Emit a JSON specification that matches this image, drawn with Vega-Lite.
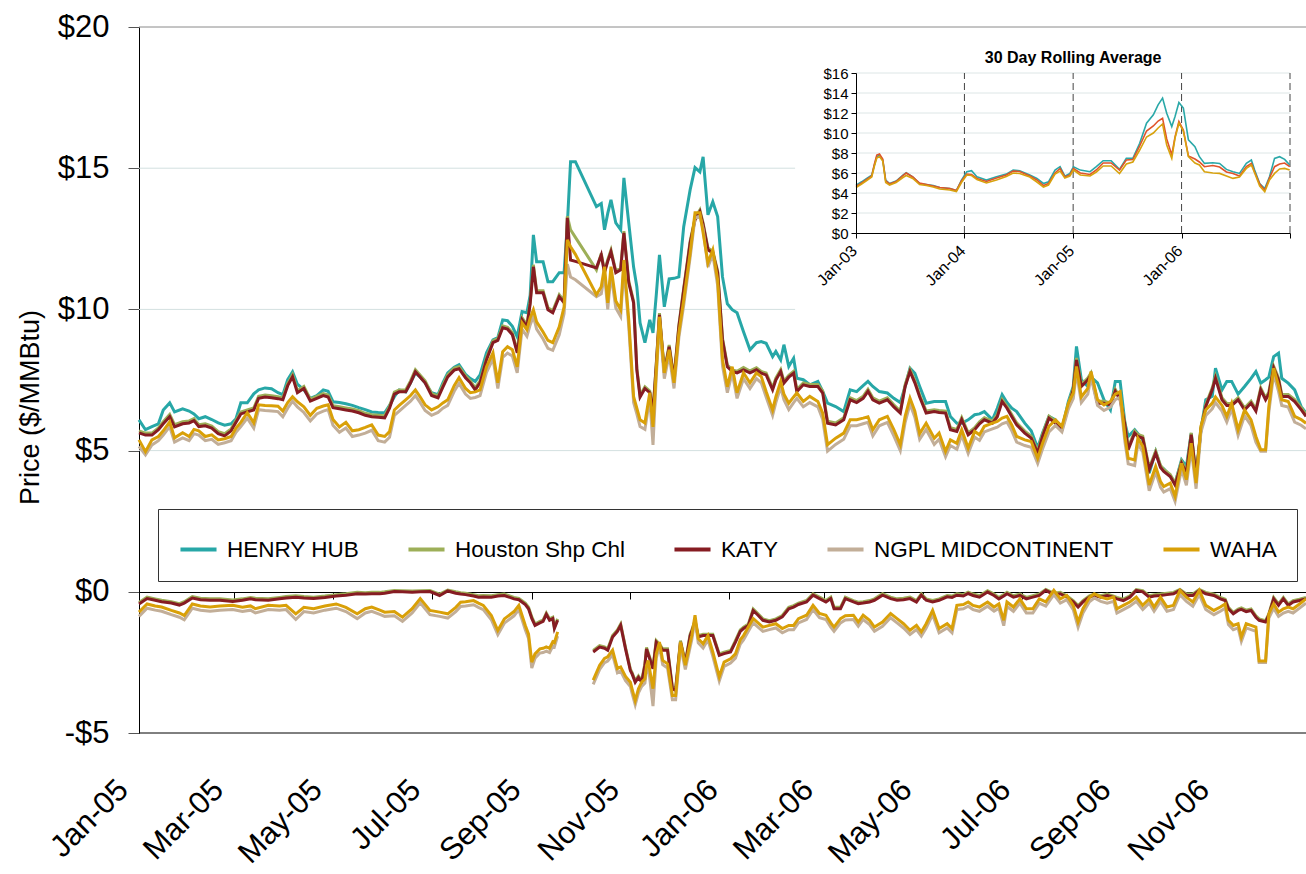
{
"$schema":"https://vega.github.io/schema/vega-lite/v6.json",
"width":1167,"height":706,
"autosize":{"type":"none"},
"padding":{"left":139,"top":27,"right":0,"bottom":141},
"background":"white",
"config":{"view":{"stroke":null},"font":"Liberation Sans"},
"datasets":{
"main":[
{"d":"2005-01-01","H":6.09,"S":5.70,"K":5.63,"N":5.15,"W":5.38},
{"d":"2005-01-05","H":5.74,"S":5.62,"K":5.55,"N":4.85,"W":4.96},
{"d":"2005-01-09","H":5.85,"S":5.62,"K":5.55,"N":5.20,"W":5.38},
{"d":"2005-01-13","H":5.95,"S":5.80,"K":5.74,"N":5.35,"W":5.50},
{"d":"2005-01-16","H":6.44,"S":6.02,"K":5.95,"N":5.55,"W":5.70},
{"d":"2005-01-20","H":6.69,"S":6.28,"K":6.20,"N":5.85,"W":6.02},
{"d":"2005-01-23","H":6.37,"S":5.92,"K":5.84,"N":5.30,"W":5.45},
{"d":"2005-01-28","H":6.48,"S":6.02,"K":5.95,"N":5.45,"W":5.63},
{"d":"2005-02-01","H":6.40,"S":6.05,"K":5.98,"N":5.35,"W":5.50},
{"d":"2005-02-04","H":6.30,"S":6.13,"K":6.06,"N":5.60,"W":5.75},
{"d":"2005-02-07","H":6.13,"S":5.92,"K":5.85,"N":5.55,"W":5.70},
{"d":"2005-02-11","H":6.20,"S":5.95,"K":5.88,"N":5.35,"W":5.50},
{"d":"2005-02-15","H":6.10,"S":5.87,"K":5.80,"N":5.40,"W":5.56},
{"d":"2005-02-19","H":5.98,"S":5.67,"K":5.60,"N":5.22,"W":5.38},
{"d":"2005-02-23","H":5.90,"S":5.60,"K":5.52,"N":5.28,"W":5.42},
{"d":"2005-02-27","H":5.95,"S":5.77,"K":5.70,"N":5.35,"W":5.50},
{"d":"2005-03-02","H":6.13,"S":6.07,"K":6.00,"N":5.65,"W":5.80},
{"d":"2005-03-05","H":6.69,"S":6.37,"K":6.30,"N":5.85,"W":6.00},
{"d":"2005-03-09","H":6.69,"S":6.44,"K":6.37,"N":6.15,"W":6.34},
{"d":"2005-03-13","H":7.01,"S":6.51,"K":6.44,"N":5.80,"W":5.98},
{"d":"2005-03-16","H":7.15,"S":6.92,"K":6.85,"N":6.45,"W":6.62},
{"d":"2005-03-20","H":7.22,"S":6.97,"K":6.90,"N":6.42,"W":6.60},
{"d":"2005-03-24","H":7.19,"S":6.94,"K":6.87,"N":6.40,"W":6.59},
{"d":"2005-03-28","H":7.05,"S":6.91,"K":6.84,"N":6.38,"W":6.57},
{"d":"2005-03-31","H":6.98,"S":6.87,"K":6.80,"N":6.20,"W":6.40},
{"d":"2005-04-03","H":7.51,"S":7.37,"K":7.30,"N":6.50,"W":6.70},
{"d":"2005-04-06","H":7.79,"S":7.68,"K":7.61,"N":6.75,"W":6.91},
{"d":"2005-04-09","H":7.35,"S":7.12,"K":7.05,"N":6.55,"W":6.73},
{"d":"2005-04-13","H":7.15,"S":7.27,"K":7.20,"N":6.35,"W":6.55},
{"d":"2005-04-17","H":6.85,"S":6.82,"K":6.75,"N":6.05,"W":6.25},
{"d":"2005-04-21","H":6.95,"S":6.92,"K":6.85,"N":6.30,"W":6.50},
{"d":"2005-04-25","H":7.15,"S":7.02,"K":6.95,"N":6.40,"W":6.58},
{"d":"2005-04-28","H":7.10,"S":6.97,"K":6.90,"N":6.45,"W":6.62},
{"d":"2005-05-01","H":6.73,"S":6.59,"K":6.52,"N":5.90,"W":6.10},
{"d":"2005-05-05","H":6.70,"S":6.55,"K":6.48,"N":5.65,"W":5.84},
{"d":"2005-05-09","H":6.66,"S":6.51,"K":6.44,"N":5.80,"W":6.00},
{"d":"2005-05-13","H":6.60,"S":6.47,"K":6.40,"N":5.50,"W":5.70},
{"d":"2005-05-17","H":6.52,"S":6.41,"K":6.34,"N":5.55,"W":5.74},
{"d":"2005-05-21","H":6.45,"S":6.32,"K":6.25,"N":5.62,"W":5.82},
{"d":"2005-05-25","H":6.37,"S":6.27,"K":6.20,"N":5.72,"W":5.91},
{"d":"2005-05-29","H":6.35,"S":6.25,"K":6.18,"N":5.35,"W":5.55},
{"d":"2005-06-02","H":6.34,"S":6.23,"K":6.16,"N":5.30,"W":5.50},
{"d":"2005-06-05","H":6.60,"S":6.57,"K":6.50,"N":5.47,"W":5.67},
{"d":"2005-06-08","H":6.91,"S":7.07,"K":7.00,"N":6.25,"W":6.44},
{"d":"2005-06-11","H":7.15,"S":7.15,"K":7.08,"N":6.40,"W":6.60},
{"d":"2005-06-15","H":7.08,"S":7.15,"K":7.08,"N":6.60,"W":6.80},
{"d":"2005-06-18","H":7.40,"S":7.47,"K":7.40,"N":6.75,"W":6.95},
{"d":"2005-06-21","H":7.75,"S":7.86,"K":7.79,"N":6.95,"W":7.15},
{"d":"2005-06-24","H":7.60,"S":7.67,"K":7.60,"N":6.70,"W":6.90},
{"d":"2005-06-27","H":7.40,"S":7.47,"K":7.40,"N":6.42,"W":6.62},
{"d":"2005-07-01","H":7.05,"S":7.02,"K":6.95,"N":6.25,"W":6.44},
{"d":"2005-07-05","H":6.98,"S":6.94,"K":6.87,"N":6.35,"W":6.55},
{"d":"2005-07-08","H":7.40,"S":7.32,"K":7.25,"N":6.50,"W":6.69},
{"d":"2005-07-11","H":7.75,"S":7.68,"K":7.61,"N":6.60,"W":6.80},
{"d":"2005-07-15","H":7.95,"S":7.92,"K":7.85,"N":7.10,"W":7.30},
{"d":"2005-07-18","H":8.04,"S":7.97,"K":7.90,"N":7.38,"W":7.58},
{"d":"2005-07-22","H":7.70,"S":7.65,"K":7.58,"N":7.00,"W":7.20},
{"d":"2005-07-25","H":7.55,"S":7.47,"K":7.40,"N":6.85,"W":7.05},
{"d":"2005-07-28","H":7.45,"S":7.22,"K":7.15,"N":6.88,"W":7.08},
{"d":"2005-07-31","H":7.68,"S":7.47,"K":7.40,"N":6.95,"W":7.15},
{"d":"2005-08-04","H":8.46,"S":8.29,"K":8.22,"N":7.77,"W":7.97},
{"d":"2005-08-08","H":8.92,"S":8.89,"K":8.82,"N":8.25,"W":8.46},
{"d":"2005-08-11","H":9.00,"S":8.97,"K":8.90,"N":7.20,"W":7.40},
{"d":"2005-08-14","H":9.63,"S":9.42,"K":9.35,"N":8.30,"W":8.50},
{"d":"2005-08-17","H":9.60,"S":9.37,"K":9.30,"N":8.45,"W":8.68},
{"d":"2005-08-20","H":9.40,"S":9.17,"K":9.10,"N":8.35,"W":8.57},
{"d":"2005-08-23","H":9.03,"S":8.53,"K":8.46,"N":7.75,"W":7.97},
{"d":"2005-08-26","H":9.92,"S":9.70,"K":9.63,"N":9.30,"W":9.52},
{"d":"2005-08-29","H":9.88,"S":9.45,"K":9.38,"N":9.05,"W":9.28},
{"d":"2005-08-31","H":10.50,"S":10.27,"K":10.20,"N":9.45,"W":9.70},
{"d":"2005-09-02","H":12.64,"S":11.58,"K":11.51,"N":9.75,"W":9.99},
{"d":"2005-09-04","H":11.69,"S":10.66,"K":10.59,"N":9.30,"W":9.56},
{"d":"2005-09-08","H":11.69,"S":10.66,"K":10.59,"N":8.95,"W":9.20},
{"d":"2005-09-11","H":10.98,"S":10.06,"K":9.99,"N":8.62,"W":8.90},
{"d":"2005-09-14","H":10.98,"S":9.95,"K":9.88,"N":8.55,"W":8.82},
{"d":"2005-09-18","H":11.30,"S":10.52,"K":10.45,"N":9.10,"W":9.38},
{"d":"2005-09-21","H":11.30,"S":10.30,"K":10.23,"N":9.85,"W":10.09},
{"d":"2005-09-23","H":13.00,"S":13.30,"K":13.24,"N":11.60,"W":12.46},
{"d":"2005-09-25","H":15.23,"S":12.82,"K":11.75,"N":11.15,"W":12.22},
{"d":"2005-09-28","H":15.23,"S":12.55,"K":11.70,"N":11.05,"W":11.95},
{"d":"2005-10-11","H":13.64,"S":11.40,"K":11.47,"N":10.45,"W":10.52},
{"d":"2005-10-14","H":13.75,"S":11.98,"K":11.93,"N":10.55,"W":10.80},
{"d":"2005-10-16","H":12.82,"S":11.36,"K":11.30,"N":11.25,"W":11.51},
{"d":"2005-10-18","H":13.40,"S":11.76,"K":11.70,"N":10.00,"W":10.23},
{"d":"2005-10-20","H":13.88,"S":12.10,"K":12.04,"N":11.25,"W":11.51},
{"d":"2005-10-23","H":13.06,"S":11.36,"K":11.30,"N":10.05,"W":10.30},
{"d":"2005-10-26","H":12.82,"S":11.46,"K":11.40,"N":9.75,"W":9.99},
{"d":"2005-10-28","H":14.66,"S":12.77,"K":12.71,"N":11.50,"W":11.75},
{"d":"2005-10-31","H":13.06,"S":11.00,"K":10.94,"N":9.40,"W":9.63},
{"d":"2005-11-03","H":11.50,"S":10.29,"K":10.23,"N":6.70,"W":6.91},
{"d":"2005-11-05","H":10.80,"S":7.92,"K":7.86,"N":6.30,"W":6.50},
{"d":"2005-11-07","H":9.52,"S":6.96,"K":6.90,"N":5.85,"W":6.09},
{"d":"2005-11-10","H":8.82,"S":7.26,"K":7.20,"N":5.75,"W":5.98},
{"d":"2005-11-13","H":9.63,"S":7.11,"K":7.05,"N":6.85,"W":7.05},
{"d":"2005-11-15","H":9.17,"S":6.40,"K":6.34,"N":5.20,"W":5.84},
{"d":"2005-11-17","H":10.50,"S":8.06,"K":8.00,"N":7.60,"W":7.80},
{"d":"2005-11-19","H":11.93,"S":9.87,"K":9.81,"N":9.55,"W":9.74},
{"d":"2005-11-22","H":10.09,"S":7.81,"K":7.75,"N":7.55,"W":7.75},
{"d":"2005-11-25","H":11.08,"S":8.74,"K":8.68,"N":8.40,"W":8.57},
{"d":"2005-11-28","H":11.10,"S":7.57,"K":7.51,"N":7.20,"W":7.40},
{"d":"2005-12-01","H":11.15,"S":9.44,"K":9.38,"N":9.00,"W":9.17},
{"d":"2005-12-04","H":12.93,"S":10.75,"K":10.69,"N":10.15,"W":10.33},
{"d":"2005-12-08","H":14.24,"S":12.42,"K":12.36,"N":11.85,"W":12.00},
{"d":"2005-12-11","H":15.02,"S":13.23,"K":13.17,"N":13.25,"W":13.42},
{"d":"2005-12-14","H":14.87,"S":13.52,"K":13.46,"N":13.30,"W":13.42},
{"d":"2005-12-16","H":15.40,"S":13.06,"K":13.00,"N":12.85,"W":12.71},
{"d":"2005-12-19","H":13.35,"S":12.17,"K":12.11,"N":11.50,"W":11.65},
{"d":"2005-12-22","H":13.81,"S":12.06,"K":12.00,"N":11.95,"W":12.11},
{"d":"2005-12-25","H":13.29,"S":11.36,"K":11.30,"N":10.85,"W":11.04},
{"d":"2005-12-28","H":11.15,"S":8.98,"K":8.92,"N":8.00,"W":8.22},
{"d":"2005-12-31","H":10.20,"S":8.03,"K":7.97,"N":7.05,"W":7.26},
{"d":"2006-01-03","H":9.99,"S":7.86,"K":7.80,"N":7.75,"W":7.97},
{"d":"2006-01-06","H":9.88,"S":7.81,"K":7.75,"N":6.85,"W":7.05},
{"d":"2006-01-10","H":9.21,"S":7.94,"K":7.86,"N":7.55,"W":7.75},
{"d":"2006-01-14","H":8.57,"S":7.82,"K":7.75,"N":7.20,"W":7.40},
{"d":"2006-01-18","H":8.82,"S":7.93,"K":7.86,"N":7.55,"W":7.75},
{"d":"2006-01-21","H":8.86,"S":7.80,"K":7.74,"N":7.40,"W":7.62},
{"d":"2006-01-24","H":8.80,"S":7.75,"K":7.68,"N":6.90,"W":7.09},
{"d":"2006-01-28","H":8.33,"S":7.22,"K":7.15,"N":6.25,"W":6.44},
{"d":"2006-01-30","H":8.51,"S":7.57,"K":7.50,"N":6.70,"W":6.90},
{"d":"2006-02-02","H":8.21,"S":7.87,"K":7.80,"N":7.25,"W":7.45},
{"d":"2006-02-04","H":8.75,"S":7.46,"K":7.39,"N":6.80,"W":7.00},
{"d":"2006-02-07","H":7.98,"S":7.67,"K":7.60,"N":6.45,"W":6.68},
{"d":"2006-02-10","H":8.27,"S":7.81,"K":7.74,"N":6.70,"W":6.90},
{"d":"2006-02-12","H":7.56,"S":7.16,"K":7.09,"N":6.85,"W":7.04},
{"d":"2006-02-16","H":7.51,"S":7.40,"K":7.33,"N":6.55,"W":6.74},
{"d":"2006-02-20","H":7.33,"S":7.34,"K":7.27,"N":6.70,"W":6.92},
{"d":"2006-02-25","H":7.45,"S":7.34,"K":7.27,"N":6.55,"W":6.74},
{"d":"2006-02-28","H":7.10,"S":7.11,"K":7.04,"N":6.10,"W":6.33},
{"d":"2006-03-03","H":6.68,"S":6.04,"K":5.97,"N":4.98,"W":5.21},
{"d":"2006-03-08","H":6.56,"S":5.98,"K":5.91,"N":5.22,"W":5.44},
{"d":"2006-03-13","H":6.38,"S":6.16,"K":6.09,"N":5.40,"W":5.62},
{"d":"2006-03-17","H":7.15,"S":6.87,"K":6.80,"N":5.88,"W":6.09},
{"d":"2006-03-21","H":7.09,"S":6.77,"K":6.70,"N":5.88,"W":6.09},
{"d":"2006-03-25","H":7.30,"S":6.92,"K":6.85,"N":5.95,"W":6.15},
{"d":"2006-03-28","H":7.45,"S":7.17,"K":7.10,"N":6.00,"W":6.20},
{"d":"2006-03-31","H":7.27,"S":6.87,"K":6.80,"N":5.52,"W":5.74},
{"d":"2006-04-04","H":7.09,"S":6.75,"K":6.68,"N":5.88,"W":6.09},
{"d":"2006-04-09","H":7.04,"S":6.87,"K":6.80,"N":6.00,"W":6.21},
{"d":"2006-04-13","H":6.85,"S":6.62,"K":6.55,"N":5.52,"W":5.74},
{"d":"2006-04-17","H":6.70,"S":6.40,"K":6.33,"N":5.00,"W":5.21},
{"d":"2006-04-20","H":7.27,"S":7.34,"K":7.27,"N":6.00,"W":6.21},
{"d":"2006-04-23","H":7.92,"S":7.87,"K":7.80,"N":6.65,"W":6.86},
{"d":"2006-04-26","H":7.74,"S":7.47,"K":7.40,"N":6.18,"W":6.40},
{"d":"2006-04-29","H":7.27,"S":6.97,"K":6.90,"N":5.40,"W":5.60},
{"d":"2006-05-03","H":6.68,"S":6.40,"K":6.33,"N":5.75,"W":5.97},
{"d":"2006-05-08","H":6.74,"S":6.45,"K":6.38,"N":5.22,"W":5.44},
{"d":"2006-05-11","H":6.74,"S":6.42,"K":6.35,"N":5.40,"W":5.62},
{"d":"2006-05-15","H":6.74,"S":6.40,"K":6.33,"N":4.78,"W":4.97},
{"d":"2006-05-18","H":6.21,"S":5.81,"K":5.74,"N":5.18,"W":5.38},
{"d":"2006-05-22","H":5.97,"S":5.75,"K":5.68,"N":5.05,"W":5.26},
{"d":"2006-05-25","H":5.97,"S":6.17,"K":6.10,"N":5.55,"W":5.74},
{"d":"2006-05-29","H":6.09,"S":5.63,"K":5.56,"N":4.90,"W":5.09},
{"d":"2006-06-02","H":6.27,"S":5.81,"K":5.74,"N":5.48,"W":5.68},
{"d":"2006-06-05","H":6.30,"S":6.02,"K":5.95,"N":5.36,"W":5.56},
{"d":"2006-06-08","H":6.38,"S":6.16,"K":6.09,"N":5.66,"W":5.86},
{"d":"2006-06-13","H":6.09,"S":6.04,"K":5.97,"N":5.77,"W":5.97},
{"d":"2006-06-16","H":6.50,"S":6.27,"K":6.20,"N":5.83,"W":6.03},
{"d":"2006-06-19","H":6.98,"S":6.81,"K":6.74,"N":5.95,"W":6.15},
{"d":"2006-06-22","H":6.70,"S":6.57,"K":6.50,"N":6.01,"W":6.21},
{"d":"2006-06-25","H":6.50,"S":6.27,"K":6.20,"N":5.70,"W":5.90},
{"d":"2006-06-28","H":6.38,"S":5.98,"K":5.91,"N":5.30,"W":5.50},
{"d":"2006-07-03","H":5.97,"S":5.69,"K":5.62,"N":5.18,"W":5.38},
{"d":"2006-07-07","H":5.70,"S":5.51,"K":5.44,"N":5.12,"W":5.32},
{"d":"2006-07-11","H":5.09,"S":4.98,"K":4.91,"N":4.55,"W":4.73},
{"d":"2006-07-14","H":5.62,"S":5.57,"K":5.50,"N":5.06,"W":5.26},
{"d":"2006-07-18","H":6.21,"S":6.22,"K":6.15,"N":5.66,"W":5.86},
{"d":"2006-07-22","H":6.09,"S":6.04,"K":5.97,"N":5.89,"W":6.09},
{"d":"2006-07-26","H":5.74,"S":5.81,"K":5.74,"N":5.66,"W":5.86},
{"d":"2006-07-30","H":6.74,"S":6.63,"K":6.56,"N":6.48,"W":6.68},
{"d":"2006-08-02","H":7.27,"S":7.22,"K":7.15,"N":6.84,"W":7.04},
{"d":"2006-08-04","H":8.69,"S":8.28,"K":8.21,"N":7.78,"W":7.98},
{"d":"2006-08-07","H":7.51,"S":7.34,"K":7.27,"N":6.70,"W":6.90},
{"d":"2006-08-11","H":7.27,"S":7.57,"K":7.50,"N":7.00,"W":7.20},
{"d":"2006-08-13","H":7.60,"S":7.75,"K":7.68,"N":7.60,"W":7.80},
{"d":"2006-08-17","H":7.40,"S":6.75,"K":6.68,"N":6.60,"W":6.80},
{"d":"2006-08-21","H":6.80,"S":6.75,"K":6.68,"N":6.42,"W":6.62},
{"d":"2006-08-25","H":6.44,"S":6.69,"K":6.62,"N":6.54,"W":6.74},
{"d":"2006-08-28","H":7.45,"S":7.17,"K":7.10,"N":6.80,"W":7.00},
{"d":"2006-08-31","H":7.45,"S":6.87,"K":6.80,"N":6.89,"W":7.09},
{"d":"2006-09-03","H":5.97,"S":5.97,"K":5.90,"N":5.30,"W":5.50},
{"d":"2006-09-05","H":5.50,"S":5.10,"K":5.03,"N":4.53,"W":4.73},
{"d":"2006-09-09","H":5.74,"S":5.69,"K":5.62,"N":4.47,"W":4.67},
{"d":"2006-09-11","H":5.60,"S":5.57,"K":5.50,"N":5.24,"W":5.44},
{"d":"2006-09-14","H":5.38,"S":5.51,"K":5.44,"N":4.95,"W":5.15},
{"d":"2006-09-18","H":4.20,"S":4.39,"K":4.32,"N":3.58,"W":3.78},
{"d":"2006-09-22","H":4.97,"S":4.98,"K":4.91,"N":4.24,"W":4.44},
{"d":"2006-09-25","H":4.44,"S":4.47,"K":4.40,"N":3.70,"W":3.90},
{"d":"2006-09-27","H":4.35,"S":4.33,"K":4.26,"N":3.53,"W":3.73},
{"d":"2006-10-01","H":4.10,"S":4.15,"K":4.08,"N":3.65,"W":3.85},
{"d":"2006-10-04","H":3.85,"S":3.85,"K":3.78,"N":3.20,"W":3.38},
{"d":"2006-10-08","H":4.67,"S":4.62,"K":4.55,"N":4.35,"W":4.55},
{"d":"2006-10-11","H":4.44,"S":4.27,"K":4.20,"N":3.77,"W":3.97},
{"d":"2006-10-14","H":5.62,"S":5.63,"K":5.56,"N":5.06,"W":5.26},
{"d":"2006-10-17","H":3.97,"S":4.15,"K":4.08,"N":3.65,"W":3.85},
{"d":"2006-10-20","H":5.74,"S":5.81,"K":5.74,"N":5.66,"W":5.86},
{"d":"2006-10-23","H":6.80,"S":6.63,"K":6.56,"N":6.24,"W":6.44},
{"d":"2006-10-27","H":6.92,"S":7.22,"K":7.15,"N":6.48,"W":6.68},
{"d":"2006-10-29","H":7.92,"S":7.63,"K":7.56,"N":6.70,"W":6.90},
{"d":"2006-11-02","H":7.15,"S":6.87,"K":6.80,"N":6.40,"W":6.60},
{"d":"2006-11-05","H":7.45,"S":6.67,"K":6.60,"N":6.01,"W":6.21},
{"d":"2006-11-08","H":7.45,"S":6.67,"K":6.60,"N":6.48,"W":6.68},
{"d":"2006-11-12","H":7.00,"S":6.87,"K":6.80,"N":5.54,"W":5.74},
{"d":"2006-11-16","H":7.27,"S":6.51,"K":6.44,"N":6.24,"W":6.44},
{"d":"2006-11-20","H":7.56,"S":6.75,"K":6.68,"N":5.89,"W":6.09},
{"d":"2006-11-23","H":7.80,"S":6.47,"K":6.40,"N":5.30,"W":5.50},
{"d":"2006-11-26","H":7.39,"S":7.22,"K":7.15,"N":4.98,"W":5.03},
{"d":"2006-11-29","H":7.51,"S":6.87,"K":6.80,"N":4.98,"W":5.03},
{"d":"2006-12-01","H":7.60,"S":7.07,"K":7.00,"N":6.36,"W":6.56},
{"d":"2006-12-04","H":8.33,"S":7.99,"K":7.92,"N":7.72,"W":7.92},
{"d":"2006-12-07","H":8.45,"S":7.57,"K":7.50,"N":7.10,"W":7.30},
{"d":"2006-12-09","H":7.56,"S":6.99,"K":6.92,"N":6.60,"W":6.80},
{"d":"2006-12-13","H":7.39,"S":6.99,"K":6.92,"N":6.54,"W":6.74},
{"d":"2006-12-17","H":7.15,"S":6.81,"K":6.74,"N":6.01,"W":6.21},
{"d":"2006-12-21","H":6.56,"S":6.52,"K":6.45,"N":5.90,"W":6.10},
{"d":"2006-12-24","H":6.33,"S":6.28,"K":6.21,"N":5.77,"W":5.97}
],
"basis":[
{"d":"2005-01-01","g":1,"S":-0.38,"K":-0.43,"N":-0.87,"W":-0.72},
{"d":"2005-01-06","g":1,"S":-0.19,"K":-0.24,"N":-0.58,"W":-0.43},
{"d":"2005-01-11","g":1,"S":-0.25,"K":-0.30,"N":-0.65,"W":-0.50},
{"d":"2005-01-15","g":1,"S":-0.30,"K":-0.35,"N":-0.69,"W":-0.54},
{"d":"2005-01-21","g":1,"S":-0.35,"K":-0.40,"N":-0.81,"W":-0.66},
{"d":"2005-01-26","g":1,"S":-0.42,"K":-0.47,"N":-0.90,"W":-0.75},
{"d":"2005-01-29","g":1,"S":-0.35,"K":-0.40,"N":-0.99,"W":-0.84},
{"d":"2005-02-03","g":1,"S":-0.17,"K":-0.22,"N":-0.58,"W":-0.43},
{"d":"2005-02-08","g":1,"S":-0.23,"K":-0.28,"N":-0.65,"W":-0.50},
{"d":"2005-02-14","g":1,"S":-0.25,"K":-0.30,"N":-0.69,"W":-0.54},
{"d":"2005-02-20","g":1,"S":-0.25,"K":-0.30,"N":-0.65,"W":-0.50},
{"d":"2005-02-28","g":1,"S":-0.29,"K":-0.34,"N":-0.63,"W":-0.48},
{"d":"2005-03-06","g":1,"S":-0.25,"K":-0.30,"N":-0.70,"W":-0.55},
{"d":"2005-03-11","g":1,"S":-0.20,"K":-0.25,"N":-0.65,"W":-0.50},
{"d":"2005-03-14","g":1,"S":-0.23,"K":-0.28,"N":-0.75,"W":-0.60},
{"d":"2005-03-22","g":1,"S":-0.25,"K":-0.30,"N":-0.63,"W":-0.48},
{"d":"2005-03-29","g":1,"S":-0.20,"K":-0.25,"N":-0.65,"W":-0.50},
{"d":"2005-04-02","g":1,"S":-0.17,"K":-0.22,"N":-0.63,"W":-0.48},
{"d":"2005-04-08","g":1,"S":-0.14,"K":-0.19,"N":-0.98,"W":-0.78},
{"d":"2005-04-13","g":1,"S":-0.17,"K":-0.22,"N":-0.70,"W":-0.55},
{"d":"2005-04-19","g":1,"S":-0.19,"K":-0.24,"N":-0.75,"W":-0.60},
{"d":"2005-04-26","g":1,"S":-0.15,"K":-0.20,"N":-0.65,"W":-0.50},
{"d":"2005-05-03","g":1,"S":-0.10,"K":-0.15,"N":-0.58,"W":-0.43},
{"d":"2005-05-09","g":1,"S":-0.07,"K":-0.12,"N":-0.70,"W":-0.55},
{"d":"2005-05-16","g":1,"S":-0.02,"K":-0.07,"N":-0.95,"W":-0.78},
{"d":"2005-05-21","g":1,"S":-0.03,"K":-0.08,"N":-0.75,"W":-0.60},
{"d":"2005-05-25","g":1,"S":-0.02,"K":-0.07,"N":-0.69,"W":-0.54},
{"d":"2005-05-30","g":1,"S":-0.02,"K":-0.07,"N":-0.80,"W":-0.65},
{"d":"2005-06-02","g":1,"S":0.00,"K":-0.05,"N":-0.87,"W":-0.72},
{"d":"2005-06-08","g":1,"S":0.05,"K":0.01,"N":-0.85,"W":-0.70},
{"d":"2005-06-13","g":1,"S":0.04,"K":0.00,"N":-1.05,"W":-0.90},
{"d":"2005-06-19","g":1,"S":0.03,"K":-0.02,"N":-0.75,"W":-0.60},
{"d":"2005-06-24","g":1,"S":0.04,"K":0.00,"N":-0.39,"W":-0.24},
{"d":"2005-06-30","g":1,"S":0.05,"K":0.01,"N":-0.81,"W":-0.66},
{"d":"2005-07-06","g":1,"S":-0.08,"K":-0.13,"N":-0.87,"W":-0.72},
{"d":"2005-07-11","g":1,"S":0.06,"K":0.03,"N":-0.93,"W":-0.78},
{"d":"2005-07-16","g":1,"S":0.00,"K":-0.05,"N":-0.70,"W":-0.55},
{"d":"2005-07-19","g":1,"S":-0.03,"K":-0.08,"N":-0.52,"W":-0.37},
{"d":"2005-07-22","g":1,"S":-0.05,"K":-0.10,"N":-0.50,"W":-0.35},
{"d":"2005-07-27","g":1,"S":-0.10,"K":-0.15,"N":-0.46,"W":-0.31},
{"d":"2005-07-30","g":1,"S":-0.14,"K":-0.19,"N":-0.55,"W":-0.40},
{"d":"2005-08-02","g":1,"S":-0.13,"K":-0.18,"N":-0.63,"W":-0.48},
{"d":"2005-08-07","g":1,"S":-0.14,"K":-0.19,"N":-0.99,"W":-0.84},
{"d":"2005-08-11","g":1,"S":-0.10,"K":-0.15,"N":-1.52,"W":-1.37},
{"d":"2005-08-15","g":1,"S":-0.08,"K":-0.13,"N":-1.11,"W":-0.96},
{"d":"2005-08-21","g":1,"S":-0.20,"K":-0.25,"N":-0.85,"W":-0.70},
{"d":"2005-08-24","g":1,"S":-0.23,"K":-0.28,"N":-0.63,"W":-0.48},
{"d":"2005-08-28","g":1,"S":-0.40,"K":-0.45,"N":-1.34,"W":-1.19},
{"d":"2005-08-30","g":1,"S":-0.55,"K":-0.60,"N":-1.65,"W":-1.50},
{"d":"2005-09-01","g":1,"S":-0.89,"K":-0.94,"N":-2.70,"W":-2.49},
{"d":"2005-09-03","g":1,"S":-1.14,"K":-1.19,"N":-2.35,"W":-2.20},
{"d":"2005-09-06","g":1,"S":-1.05,"K":-1.10,"N":-2.17,"W":-2.02},
{"d":"2005-09-08","g":1,"S":-1.00,"K":-1.05,"N":-2.15,"W":-2.00},
{"d":"2005-09-10","g":1,"S":-0.75,"K":-0.80,"N":-2.10,"W":-1.95},
{"d":"2005-09-12","g":1,"S":-0.96,"K":-1.01,"N":-2.15,"W":-2.00},
{"d":"2005-09-14","g":1,"S":-0.90,"K":-0.95,"N":-1.92,"W":-1.77},
{"d":"2005-09-15","g":1,"S":-1.25,"K":-1.30,"N":-1.95,"W":-1.80},
{"d":"2005-09-17","g":1,"S":-0.96,"K":-1.01,"N":-1.57,"W":-1.42},
{"d":"2005-10-09","g":2,"S":-2.08,"K":-2.13,"N":-3.28,"W":-3.13},
{"d":"2005-10-13","g":2,"S":-1.91,"K":-1.96,"N":-2.75,"W":-2.60},
{"d":"2005-10-16","g":2,"S":-1.95,"K":-2.00,"N":-2.51,"W":-2.36},
{"d":"2005-10-18","g":2,"S":-2.02,"K":-2.07,"N":-2.45,"W":-2.30},
{"d":"2005-10-21","g":2,"S":-1.55,"K":-1.60,"N":-2.22,"W":-2.07},
{"d":"2005-10-24","g":2,"S":-1.35,"K":-1.40,"N":-2.87,"W":-2.72},
{"d":"2005-10-26","g":2,"S":-1.14,"K":-1.19,"N":-2.81,"W":-2.66},
{"d":"2005-10-29","g":2,"S":-1.97,"K":-2.02,"N":-3.15,"W":-3.00},
{"d":"2005-11-01","g":2,"S":-2.74,"K":-2.79,"N":-3.35,"W":-3.20},
{"d":"2005-11-02","g":2,"S":-2.85,"K":-2.90,"N":-3.58,"W":-3.43},
{"d":"2005-11-04","g":2,"S":-3.15,"K":-3.20,"N":-4.00,"W":-3.85},
{"d":"2005-11-06","g":2,"S":-2.98,"K":-3.03,"N":-3.58,"W":-3.43},
{"d":"2005-11-08","g":2,"S":-3.15,"K":-3.20,"N":-3.35,"W":-3.20},
{"d":"2005-11-10","g":2,"S":-2.55,"K":-2.60,"N":-3.23,"W":-3.08},
{"d":"2005-11-11","g":2,"S":-1.97,"K":-2.02,"N":-2.75,"W":-2.60},
{"d":"2005-11-12","g":2,"S":-2.15,"K":-2.20,"N":-2.58,"W":-2.43},
{"d":"2005-11-15","g":2,"S":-2.68,"K":-2.73,"N":-4.05,"W":-3.43},
{"d":"2005-11-17","g":2,"S":-1.73,"K":-1.78,"N":-2.35,"W":-2.20},
{"d":"2005-11-19","g":2,"S":-1.85,"K":-1.90,"N":-1.93,"W":-1.78},
{"d":"2005-11-21","g":2,"S":-2.02,"K":-2.07,"N":-2.58,"W":-2.43},
{"d":"2005-11-24","g":2,"S":-2.02,"K":-2.07,"N":-2.70,"W":-2.55},
{"d":"2005-11-27","g":2,"S":-3.38,"K":-3.43,"N":-3.82,"W":-3.67},
{"d":"2005-11-29","g":2,"S":-3.44,"K":-3.49,"N":-3.82,"W":-3.67},
{"d":"2005-12-02","g":2,"S":-1.73,"K":-1.78,"N":-1.93,"W":-1.78},
{"d":"2005-12-05","g":2,"S":-2.50,"K":-2.55,"N":-2.75,"W":-2.60},
{"d":"2005-12-08","g":2,"S":-1.50,"K":-1.55,"N":-1.95,"W":-1.80},
{"d":"2005-12-09","g":2,"S":-1.35,"K":-1.40,"N":-1.70,"W":-1.55},
{"d":"2005-12-11","g":2,"S":-1.02,"K":-1.07,"N":-0.98,"W":-0.83},
{"d":"2005-12-13","g":2,"S":-1.55,"K":-1.60,"N":-1.81,"W":-1.66},
{"d":"2005-12-16","g":2,"S":-1.50,"K":-1.55,"N":-1.99,"W":-1.84},
{"d":"2005-12-19","g":2,"S":-1.50,"K":-1.55,"N":-1.70,"W":-1.55},
{"d":"2005-12-22","g":2,"S":-1.50,"K":-1.55,"N":-2.28,"W":-2.13},
{"d":"2005-12-26","g":2,"S":-2.20,"K":-2.25,"N":-3.16,"W":-3.01},
{"d":"2005-12-29","g":2,"S":-2.14,"K":-2.19,"N":-2.64,"W":-2.49},
{"d":"2006-01-02","g":2,"S":-2.08,"K":-2.13,"N":-2.52,"W":-2.37},
{"d":"2006-01-05","g":2,"S":-1.73,"K":-1.78,"N":-2.35,"W":-2.20},
{"d":"2006-01-08","g":2,"S":-1.35,"K":-1.40,"N":-1.85,"W":-1.70},
{"d":"2006-01-10","g":2,"S":-1.25,"K":-1.30,"N":-1.70,"W":-1.55},
{"d":"2006-01-13","g":2,"S":-1.14,"K":-1.19,"N":-1.40,"W":-1.25},
{"d":"2006-01-16","g":2,"S":-0.61,"K":-0.66,"N":-1.10,"W":-0.95},
{"d":"2006-01-19","g":2,"S":-0.78,"K":-0.83,"N":-1.25,"W":-1.10},
{"d":"2006-01-22","g":2,"S":-0.96,"K":-1.01,"N":-1.40,"W":-1.25},
{"d":"2006-01-26","g":2,"S":-1.02,"K":-1.07,"N":-1.34,"W":-1.19},
{"d":"2006-01-30","g":2,"S":-0.96,"K":-1.01,"N":-1.28,"W":-1.13},
{"d":"2006-02-03","g":2,"S":-0.84,"K":-0.89,"N":-1.45,"W":-1.30},
{"d":"2006-02-07","g":2,"S":-0.55,"K":-0.60,"N":-1.34,"W":-1.19},
{"d":"2006-02-10","g":2,"S":-0.49,"K":-0.54,"N":-1.34,"W":-1.19},
{"d":"2006-02-13","g":2,"S":-0.40,"K":-0.45,"N":-1.10,"W":-0.95},
{"d":"2006-02-18","g":2,"S":-0.31,"K":-0.36,"N":-0.98,"W":-0.83},
{"d":"2006-02-22","g":2,"S":-0.07,"K":-0.12,"N":-0.63,"W":-0.48},
{"d":"2006-02-26","g":2,"S":-0.19,"K":-0.24,"N":-0.92,"W":-0.77},
{"d":"2006-03-02","g":2,"S":-0.31,"K":-0.36,"N":-0.98,"W":-0.83},
{"d":"2006-03-05","g":2,"S":-0.19,"K":-0.24,"N":-1.25,"W":-1.10},
{"d":"2006-03-07","g":2,"S":-0.55,"K":-0.60,"N":-1.40,"W":-1.25},
{"d":"2006-03-11","g":2,"S":-0.55,"K":-0.60,"N":-1.10,"W":-0.95},
{"d":"2006-03-14","g":2,"S":-0.19,"K":-0.24,"N":-1.00,"W":-0.85},
{"d":"2006-03-19","g":2,"S":-0.31,"K":-0.36,"N":-0.98,"W":-0.83},
{"d":"2006-03-22","g":2,"S":-0.37,"K":-0.42,"N":-1.22,"W":-1.07},
{"d":"2006-03-25","g":2,"S":-0.35,"K":-0.40,"N":-0.98,"W":-0.83},
{"d":"2006-03-29","g":2,"S":-0.31,"K":-0.36,"N":-1.16,"W":-1.01},
{"d":"2006-04-01","g":2,"S":-0.25,"K":-0.30,"N":-1.40,"W":-1.25},
{"d":"2006-04-06","g":2,"S":-0.07,"K":-0.12,"N":-1.22,"W":-1.07},
{"d":"2006-04-11","g":2,"S":-0.19,"K":-0.24,"N":-0.92,"W":-0.77},
{"d":"2006-04-15","g":2,"S":-0.25,"K":-0.30,"N":-1.10,"W":-0.95},
{"d":"2006-04-19","g":2,"S":-0.23,"K":-0.28,"N":-1.28,"W":-1.13},
{"d":"2006-04-23","g":2,"S":-0.19,"K":-0.24,"N":-1.51,"W":-1.36},
{"d":"2006-04-27","g":2,"S":-0.31,"K":-0.36,"N":-1.34,"W":-1.19},
{"d":"2006-04-30","g":2,"S":-0.07,"K":-0.12,"N":-1.57,"W":-1.42},
{"d":"2006-05-03","g":2,"S":-0.25,"K":-0.30,"N":-1.28,"W":-1.13},
{"d":"2006-05-07","g":2,"S":-0.31,"K":-0.36,"N":-0.81,"W":-0.66},
{"d":"2006-05-11","g":2,"S":-0.25,"K":-0.30,"N":-1.45,"W":-1.30},
{"d":"2006-05-16","g":2,"S":-0.13,"K":-0.18,"N":-1.28,"W":-1.13},
{"d":"2006-05-19","g":2,"S":-0.15,"K":-0.20,"N":-1.45,"W":-1.30},
{"d":"2006-05-22","g":2,"S":-0.07,"K":-0.12,"N":-0.63,"W":-0.48},
{"d":"2006-05-26","g":2,"S":-0.10,"K":-0.15,"N":-0.60,"W":-0.45},
{"d":"2006-05-29","g":2,"S":-0.01,"K":-0.06,"N":-0.51,"W":-0.36},
{"d":"2006-06-01","g":2,"S":-0.08,"K":-0.13,"N":-0.63,"W":-0.48},
{"d":"2006-06-05","g":2,"S":-0.14,"K":-0.19,"N":-0.69,"W":-0.54},
{"d":"2006-06-10","g":2,"S":0.04,"K":-0.01,"N":-0.51,"W":-0.36},
{"d":"2006-06-14","g":2,"S":-0.08,"K":-0.13,"N":-0.69,"W":-0.54},
{"d":"2006-06-17","g":2,"S":-0.20,"K":-0.25,"N":-0.58,"W":-0.43},
{"d":"2006-06-20","g":2,"S":-0.10,"K":-0.15,"N":-1.20,"W":-1.01},
{"d":"2006-06-22","g":2,"S":-0.02,"K":-0.07,"N":-0.51,"W":-0.36},
{"d":"2006-06-26","g":2,"S":-0.14,"K":-0.19,"N":-0.69,"W":-0.54},
{"d":"2006-06-30","g":2,"S":-0.08,"K":-0.13,"N":-0.40,"W":-0.25},
{"d":"2006-07-04","g":2,"S":-0.20,"K":-0.25,"N":-0.75,"W":-0.60},
{"d":"2006-07-08","g":2,"S":-0.14,"K":-0.19,"N":-0.75,"W":-0.60},
{"d":"2006-07-12","g":2,"S":-0.08,"K":-0.13,"N":-0.40,"W":-0.25},
{"d":"2006-07-16","g":2,"S":0.08,"K":0.05,"N":-0.51,"W":-0.36},
{"d":"2006-07-21","g":2,"S":-0.05,"K":-0.10,"N":-0.10,"W":0.05},
{"d":"2006-07-25","g":2,"S":-0.02,"K":-0.07,"N":-0.40,"W":-0.25},
{"d":"2006-07-29","g":2,"S":-0.14,"K":-0.19,"N":-0.28,"W":-0.13},
{"d":"2006-08-02","g":2,"S":-0.31,"K":-0.36,"N":-0.63,"W":-0.48},
{"d":"2006-08-05","g":2,"S":-0.49,"K":-0.54,"N":-1.25,"W":-1.07},
{"d":"2006-08-08","g":2,"S":-0.31,"K":-0.36,"N":-0.75,"W":-0.60},
{"d":"2006-08-12","g":2,"S":-0.14,"K":-0.19,"N":-0.35,"W":-0.20},
{"d":"2006-08-15","g":2,"S":-0.08,"K":-0.13,"N":-0.22,"W":-0.07},
{"d":"2006-08-19","g":2,"S":-0.14,"K":-0.19,"N":-0.34,"W":-0.19},
{"d":"2006-08-23","g":2,"S":-0.08,"K":-0.13,"N":-0.40,"W":-0.25},
{"d":"2006-08-27","g":2,"S":-0.15,"K":-0.20,"N":-0.34,"W":-0.19},
{"d":"2006-08-29","g":2,"S":-0.20,"K":-0.25,"N":-0.75,"W":-0.60},
{"d":"2006-09-02","g":2,"S":-0.26,"K":-0.31,"N":-0.63,"W":-0.48},
{"d":"2006-09-06","g":2,"S":-0.14,"K":-0.19,"N":-0.51,"W":-0.36},
{"d":"2006-09-10","g":2,"S":0.08,"K":0.05,"N":-0.34,"W":-0.19},
{"d":"2006-09-14","g":2,"S":0.04,"K":0.00,"N":-0.63,"W":-0.48},
{"d":"2006-09-18","g":2,"S":-0.14,"K":-0.19,"N":-0.40,"W":-0.25},
{"d":"2006-09-21","g":2,"S":-0.10,"K":-0.15,"N":-0.69,"W":-0.54},
{"d":"2006-09-25","g":2,"S":-0.08,"K":-0.13,"N":-0.34,"W":-0.19},
{"d":"2006-09-29","g":2,"S":-0.05,"K":-0.10,"N":-0.69,"W":-0.54},
{"d":"2006-10-03","g":2,"S":-0.02,"K":-0.07,"N":-0.63,"W":-0.48},
{"d":"2006-10-07","g":2,"S":0.08,"K":0.05,"N":-0.10,"W":0.05},
{"d":"2006-10-11","g":2,"S":-0.08,"K":-0.13,"N":-0.34,"W":-0.19},
{"d":"2006-10-15","g":2,"S":-0.08,"K":-0.13,"N":-0.51,"W":-0.36},
{"d":"2006-10-19","g":2,"S":0.08,"K":0.05,"N":-0.10,"W":0.05},
{"d":"2006-10-23","g":2,"S":-0.02,"K":-0.07,"N":-0.63,"W":-0.48},
{"d":"2006-10-28","g":2,"S":-0.08,"K":-0.13,"N":-0.81,"W":-0.66},
{"d":"2006-11-01","g":2,"S":-0.20,"K":-0.25,"N":-0.69,"W":-0.54},
{"d":"2006-11-04","g":2,"S":-0.26,"K":-0.31,"N":-0.58,"W":-0.43},
{"d":"2006-11-06","g":2,"S":-0.55,"K":-0.60,"N":-1.16,"W":-1.01},
{"d":"2006-11-09","g":2,"S":-0.73,"K":-0.78,"N":-1.34,"W":-1.19},
{"d":"2006-11-12","g":2,"S":-0.61,"K":-0.66,"N":-1.28,"W":-1.13},
{"d":"2006-11-14","g":2,"S":-0.57,"K":-0.62,"N":-1.75,"W":-1.60},
{"d":"2006-11-17","g":2,"S":-0.65,"K":-0.70,"N":-1.28,"W":-1.13},
{"d":"2006-11-20","g":2,"S":-0.61,"K":-0.66,"N":-1.34,"W":-1.19},
{"d":"2006-11-23","g":2,"S":-0.85,"K":-0.90,"N":-1.40,"W":-1.25},
{"d":"2006-11-25","g":2,"S":-0.96,"K":-1.01,"N":-2.50,"W":-2.45},
{"d":"2006-11-29","g":2,"S":-1.02,"K":-1.07,"N":-2.50,"W":-2.45},
{"d":"2006-12-01","g":2,"S":-0.78,"K":-0.83,"N":-0.93,"W":-0.78},
{"d":"2006-12-04","g":2,"S":-0.20,"K":-0.25,"N":-0.58,"W":-0.43},
{"d":"2006-12-07","g":2,"S":-0.43,"K":-0.48,"N":-0.87,"W":-0.72},
{"d":"2006-12-10","g":2,"S":-0.20,"K":-0.25,"N":-0.75,"W":-0.60},
{"d":"2006-12-13","g":2,"S":-0.43,"K":-0.48,"N":-0.69,"W":-0.54},
{"d":"2006-12-16","g":2,"S":-0.31,"K":-0.36,"N":-0.75,"W":-0.60},
{"d":"2006-12-20","g":2,"S":-0.26,"K":-0.31,"N":-0.58,"W":-0.43},
{"d":"2006-12-24","g":2,"S":-0.20,"K":-0.25,"N":-0.40,"W":-0.25}
],
"inset":[
{"d":"2003-01-01","H":4.79,"K":4.65,"W":4.55},
{"d":"2003-01-20","H":5.12,"K":5.00,"W":4.90},
{"d":"2003-02-06","H":5.46,"K":5.35,"W":5.25},
{"d":"2003-02-23","H":5.79,"K":5.70,"W":5.60},
{"d":"2003-03-04","H":6.80,"K":6.90,"W":6.70},
{"d":"2003-03-12","H":7.63,"K":7.80,"W":7.50},
{"d":"2003-03-21","H":7.80,"K":7.90,"W":7.65},
{"d":"2003-04-01","H":7.30,"K":7.40,"W":7.20},
{"d":"2003-04-11","H":5.29,"K":5.20,"W":5.05},
{"d":"2003-04-24","H":4.95,"K":4.90,"W":4.80},
{"d":"2003-05-16","H":5.20,"K":5.15,"W":5.05},
{"d":"2003-06-08","H":5.79,"K":5.75,"W":5.55},
{"d":"2003-06-19","H":6.03,"K":6.00,"W":5.75},
{"d":"2003-07-11","H":5.62,"K":5.60,"W":5.45},
{"d":"2003-08-03","H":4.95,"K":5.00,"W":4.85},
{"d":"2003-08-26","H":4.85,"K":4.85,"W":4.75},
{"d":"2003-09-18","H":4.75,"K":4.70,"W":4.60},
{"d":"2003-10-10","H":4.55,"K":4.55,"W":4.40},
{"d":"2003-11-13","H":4.45,"K":4.45,"W":4.30},
{"d":"2003-12-05","H":4.25,"K":4.25,"W":4.15},
{"d":"2003-12-22","H":5.29,"K":5.20,"W":5.05},
{"d":"2004-01-09","H":6.13,"K":5.90,"W":5.80},
{"d":"2004-01-25","H":6.23,"K":5.85,"W":5.75},
{"d":"2004-02-12","H":5.62,"K":5.45,"W":5.35},
{"d":"2004-03-15","H":5.29,"K":5.15,"W":5.00},
{"d":"2004-04-18","H":5.62,"K":5.50,"W":5.30},
{"d":"2004-05-21","H":5.89,"K":5.80,"W":5.65},
{"d":"2004-06-13","H":6.29,"K":6.20,"W":6.00},
{"d":"2004-07-05","H":6.23,"K":6.15,"W":5.95},
{"d":"2004-08-08","H":5.79,"K":5.70,"W":5.60},
{"d":"2004-09-01","H":5.46,"K":5.30,"W":5.10},
{"d":"2004-09-23","H":4.95,"K":4.75,"W":4.60},
{"d":"2004-10-10","H":5.12,"K":4.95,"W":4.80},
{"d":"2004-11-01","H":6.29,"K":6.00,"W":5.90},
{"d":"2004-11-18","H":6.63,"K":6.45,"W":6.20},
{"d":"2004-12-04","H":5.69,"K":5.60,"W":5.50},
{"d":"2004-12-21","H":5.96,"K":5.80,"W":5.70},
{"d":"2005-01-02","H":6.63,"K":6.45,"W":6.30},
{"d":"2005-01-25","H":6.29,"K":6.00,"W":5.80},
{"d":"2005-02-27","H":6.13,"K":5.85,"W":5.70},
{"d":"2005-03-20","H":6.63,"K":6.30,"W":6.10},
{"d":"2005-04-12","H":7.23,"K":7.00,"W":6.70},
{"d":"2005-05-09","H":7.23,"K":7.00,"W":6.70},
{"d":"2005-06-06","H":6.36,"K":6.30,"W":5.95},
{"d":"2005-06-29","H":7.46,"K":7.30,"W":6.90},
{"d":"2005-07-21","H":7.46,"K":7.35,"W":7.10},
{"d":"2005-08-13","H":8.97,"K":8.70,"W":8.30},
{"d":"2005-09-05","H":10.98,"K":10.20,"W":9.60},
{"d":"2005-09-28","H":11.82,"K":10.70,"W":10.00},
{"d":"2005-10-14","H":12.82,"K":11.20,"W":10.50},
{"d":"2005-10-29","H":13.49,"K":11.48,"W":10.90},
{"d":"2005-11-12","H":11.98,"K":9.40,"W":8.80},
{"d":"2005-11-29","H":10.64,"K":7.80,"W":7.46},
{"d":"2005-12-10","H":11.65,"K":9.60,"W":9.50},
{"d":"2005-12-23","H":13.05,"K":11.15,"W":10.98},
{"d":"2006-01-07","H":12.49,"K":10.30,"W":10.20},
{"d":"2006-01-24","H":9.31,"K":7.70,"W":7.63},
{"d":"2006-02-15","H":8.64,"K":7.40,"W":7.00},
{"d":"2006-03-02","H":7.63,"K":7.10,"W":6.80},
{"d":"2006-03-19","H":6.96,"K":6.63,"W":6.13},
{"d":"2006-04-16","H":7.03,"K":6.75,"W":6.00},
{"d":"2006-05-09","H":6.96,"K":6.60,"W":5.96},
{"d":"2006-06-01","H":6.36,"K":6.10,"W":5.70},
{"d":"2006-06-23","H":6.13,"K":5.96,"W":5.46},
{"d":"2006-07-15","H":5.96,"K":5.70,"W":5.60},
{"d":"2006-08-07","H":6.96,"K":6.65,"W":6.46},
{"d":"2006-08-24","H":7.30,"K":6.96,"W":6.80},
{"d":"2006-09-04","H":6.29,"K":6.10,"W":6.00},
{"d":"2006-09-21","H":4.95,"K":4.90,"W":4.70},
{"d":"2006-10-08","H":4.45,"K":4.28,"W":4.12},
{"d":"2006-10-24","H":5.62,"K":5.50,"W":5.30},
{"d":"2006-11-10","H":7.46,"K":6.63,"W":5.96},
{"d":"2006-11-27","H":7.63,"K":6.90,"W":6.40},
{"d":"2006-12-14","H":7.36,"K":7.00,"W":6.46},
{"d":"2006-12-31","H":6.80,"K":6.63,"W":6.29}
]
},
"layer":[
 {"data":{"values":[{"g":5},{"g":10},{"g":15}]},
  "mark":{"type":"rule","color":"#d3e0e0","strokeWidth":1},
  "encoding":{"y":{"field":"g","type":"quantitative","scale":{"domain":[-5,20],"nice":false,"zero":false},"axis":null}}},
 {"data":{"values":[{}]},
  "mark":{"type":"rule","color":"#8a8a8a","strokeWidth":1},
  "encoding":{"y":{"datum":20,"type":"quantitative","scale":{"domain":[-5,20],"nice":false,"zero":false},"axis":null}}},
 {"data":{"values":[{}]},
  "mark":{"type":"rule","color":"black","strokeWidth":1},
  "encoding":{"y":{"datum":-5,"type":"quantitative","scale":{"domain":[-5,20],"nice":false,"zero":false},"axis":null}}},
 {"data":{"name":"basis","format":{"parse":{"d":"date:'%Y-%m-%d'"}}},
  "transform":[{"fold":["S","K","N","W"],"as":["s","v"]}],
  "mark":{"type":"line","strokeWidth":3},
  "encoding":{
   "x":{"field":"d","type":"temporal","scale":{"domain":[{"year":2005,"month":1,"date":1},{"year":2006,"month":12,"date":24}],"nice":false},"axis":null},
   "y":{"field":"v","type":"quantitative","scale":{"domain":[-5,20],"nice":false,"zero":false},"axis":null},
   "color":{"field":"s","type":"nominal","scale":{"domain":["H","S","K","N","W"],"range":["#27a7a7","#9daf58","#861c22","#c2ae98","#d9a008"]},"legend":null},
   "detail":{"field":"g","type":"nominal"}
  }},
 {"data":{"name":"main","format":{"parse":{"d":"date:'%Y-%m-%d'"}}},
  "transform":[{"fold":["H","S","K","N","W"],"as":["s","v"]}],
  "mark":{"type":"line","strokeWidth":3},
  "encoding":{
   "x":{"field":"d","type":"temporal",
    "scale":{"domain":[{"year":2005,"month":1,"date":1},{"year":2006,"month":12,"date":24}],"nice":false},
    "axis":{"orient":"bottom","offset":-141,"title":null,"grid":false,
     "values":[{"year":2005,"month":1,"date":1},{"year":2005,"month":3,"date":1},{"year":2005,"month":5,"date":1},{"year":2005,"month":7,"date":1},{"year":2005,"month":9,"date":1},{"year":2005,"month":11,"date":1},{"year":2006,"month":1,"date":1},{"year":2006,"month":3,"date":1},{"year":2006,"month":5,"date":1},{"year":2006,"month":7,"date":1},{"year":2006,"month":9,"date":1},{"year":2006,"month":11,"date":1}],
     "format":"%b-%y","labelAngle":-45,"labelAlign":"right","labelBaseline":"middle","labelFontSize":31,"labelColor":"black","labelPadding":186,"labelOffset":-16,
     "labelOverlap":false,"labelBound":false,"labelFlush":false,
     "tickSize":7,"tickColor":"black","domainColor":"black","domainWidth":1}},
   "y":{"field":"v","type":"quantitative","scale":{"domain":[-5,20],"nice":false,"zero":false},
    "axis":{"orient":"left","values":[-5,0,5,10,15,20],"grid":false,
     "labelExpr":"datum.value < 0 ? '-$' + abs(datum.value) : '$' + datum.value",
     "labelFontSize":31,"labelColor":"black","labelPadding":19,"tickSize":11,"tickColor":"#555555","domainColor":"black",
     "title":"Price ($/MMBtu)","titleFontSize":27,"titleFontWeight":"normal","titleColor":"black","titleAngle":-90,
     "titleX":-109,"titleY":380,"titleAlign":"center","titleBaseline":"middle"}},
   "color":{"field":"s","type":"nominal",
    "scale":{"domain":["H","S","K","N","W"],"range":["#27a7a7","#9daf58","#861c22","#c2ae98","#d9a008"]},
    "legend":{"orient":"none","legendX":19,"legendY":482,"direction":"horizontal","title":null,
     "labelExpr":"datum.label == 'H' ? 'HENRY HUB' : datum.label == 'S' ? 'Houston Shp Chl' : datum.label == 'K' ? 'KATY' : datum.label == 'N' ? 'NGPL MIDCONTINENT' : 'WAHA'",
     "labelFontSize":22.5,"labelColor":"black","labelLimit":400,"labelOffset":8,
     "symbolType":"stroke","symbolStrokeWidth":4,"symbolSize":1300,
     "columnPadding":40,"padding":20,"strokeColor":"#333333","fillColor":"white"}}
  }},
 {"data":{"values":[{}]},
  "mark":{"type":"rect","fill":"white"},
  "encoding":{
   "x":{"datum":{"year":2002,"month":6,"date":10},"type":"temporal",
    "scale":{"domain":[{"year":2003,"month":1,"date":1},{"year":2007,"month":1,"date":1}],"range":[717,1151],"nice":false},
    "axis":{"orient":"bottom","offset":-500,"title":null,"grid":false,"zindex":1,
     "values":[{"year":2003,"month":1,"date":1},{"year":2004,"month":1,"date":1},{"year":2005,"month":1,"date":1},{"year":2006,"month":1,"date":1},{"year":2007,"month":1,"date":1}],
     "labelExpr":"year(datum.value) >= 2007 ? '' : timeFormat(datum.value, '%b-%y')",
     "labelAngle":-45,"labelAlign":"right","labelBaseline":"middle","labelFontSize":16,"labelColor":"black","labelPadding":10,"labelOffset":-2,
     "labelOverlap":false,"labelBound":false,"labelFlush":false,
     "tickSize":5,"tickColor":"black","domainColor":"black"}},
   "x2":{"datum":{"year":2007,"month":2,"date":25}},
   "y":{"datum":-8.5,"type":"quantitative",
    "scale":{"domain":[0,16],"range":[206,46],"nice":false,"zero":false},
    "axis":{"orient":"left","offset":-717,"title":null,"grid":false,"zindex":1,
     "values":[0,2,4,6,8,10,12,14,16],"labelExpr":"'$' + datum.value",
     "labelFontSize":15,"labelColor":"black","labelPadding":3,"tickSize":5,"tickColor":"black","domainColor":"black"}},
   "y2":{"datum":19.3}
  }},
 {"data":{"values":[{"g":2},{"g":4},{"g":6},{"g":8},{"g":10},{"g":12},{"g":14},{"g":16}]},
  "mark":{"type":"rule","color":"#dde6e6","strokeWidth":1},
  "encoding":{
   "x":{"datum":{"year":2003,"month":1,"date":1},"type":"temporal",
    "scale":{"domain":[{"year":2003,"month":1,"date":1},{"year":2007,"month":1,"date":1}],"range":[717,1151],"nice":false},"axis":null},
   "x2":{"datum":{"year":2007,"month":1,"date":1}},
   "y":{"field":"g","type":"quantitative","scale":{"domain":[0,16],"range":[206,46],"nice":false,"zero":false},"axis":null}
  }},
 {"data":{"values":[{"t":"2004-01-01"},{"t":"2005-01-01"},{"t":"2006-01-01"},{"t":"2007-01-01"}],"format":{"parse":{"t":"date:'%Y-%m-%d'"}}},
  "mark":{"type":"rule","color":"#444444","strokeWidth":1,"strokeDash":[7,4]},
  "encoding":{
   "x":{"field":"t","type":"temporal",
    "scale":{"domain":[{"year":2003,"month":1,"date":1},{"year":2007,"month":1,"date":1}],"range":[717,1151],"nice":false},"axis":null},
   "y":{"datum":0,"type":"quantitative","scale":{"domain":[0,16],"range":[206,46],"nice":false,"zero":false},"axis":null},
   "y2":{"datum":16}
  }},
 {"data":{"name":"inset","format":{"parse":{"d":"date:'%Y-%m-%d'"}}},
  "transform":[{"fold":["H","K","W"],"as":["s","v"]}],
  "mark":{"type":"line","strokeWidth":1.6},
  "encoding":{
   "x":{"field":"d","type":"temporal",
    "scale":{"domain":[{"year":2003,"month":1,"date":1},{"year":2007,"month":1,"date":1}],"range":[717,1151],"nice":false},"axis":null},
   "y":{"field":"v","type":"quantitative","scale":{"domain":[0,16],"range":[206,46],"nice":false,"zero":false},"axis":null},
   "color":{"field":"s","type":"nominal","scale":{"domain":["H","K","W"],"range":["#2aa8a8","#e0532a","#d8a20e"]},"legend":null}
  }},
 {"data":{"values":[{}]},
  "mark":{"type":"text","text":"30 Day Rolling Average","fontWeight":"bold","fontSize":16,"color":"black","align":"center","baseline":"middle"},
  "encoding":{
   "x":{"datum":{"year":2005,"month":1,"date":1},"type":"temporal",
    "scale":{"domain":[{"year":2003,"month":1,"date":1},{"year":2007,"month":1,"date":1}],"range":[717,1151],"nice":false},"axis":null},
   "y":{"datum":17.5,"type":"quantitative","scale":{"domain":[0,16],"range":[206,46],"nice":false,"zero":false},"axis":null}
  }}
],
"resolve":{"scale":{"x":"independent","y":"independent","color":"independent"},"axis":{"x":"independent","y":"independent"}}
}
